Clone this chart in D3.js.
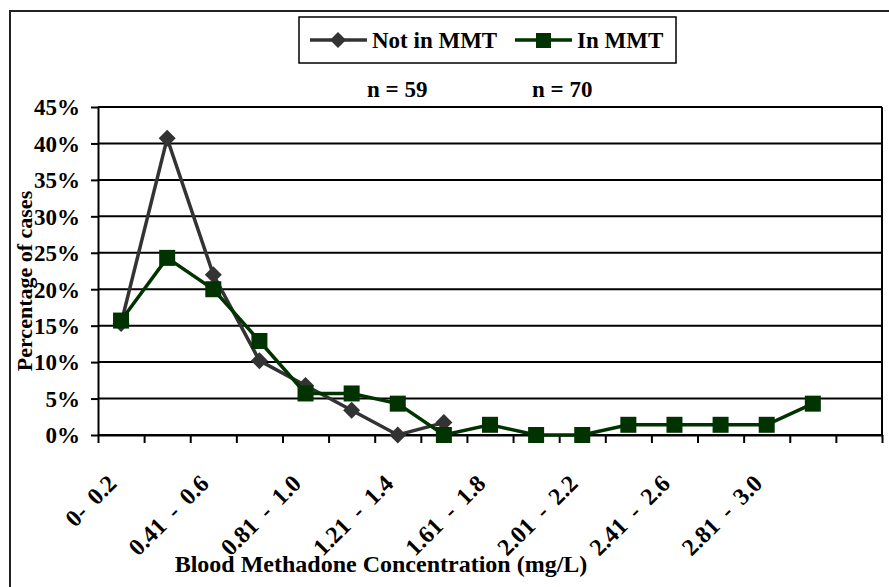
<!DOCTYPE html>
<html>
<head>
<meta charset="utf-8">
<script src="https://cdn.jsdelivr.net/npm/d3@7"></script>
<style>
  html, body { margin: 0; padding: 0; background: #fff; }
  svg { display: block; }
</style>
</head>
<body>
<svg id="chart" width="889" height="587"></svg>
<script>
// ---- data ----
const categories = ["0- 0.2", "0.21 - 0.4", "0.41 - 0.6", "0.61 - 0.8", "0.81 - 1.0", "1.01 - 1.2",
  "1.21 - 1.4", "1.41 - 1.6", "1.61 - 1.8", "1.81 - 2.0", "2.01 - 2.2", "2.21 - 2.4",
  "2.41 - 2.6", "2.61 - 2.8", "2.81 - 3.0", "3.01 - 3.2", ""];
const shownLabels = ["0- 0.2", "0.41 - 0.6", "0.81 - 1.0", "1.21 - 1.4", "1.61 - 1.8", "2.01 - 2.2", "2.41 - 2.6", "2.81 - 3.0"];
const notInMMT = [15.3, 40.7, 22.0, 10.2, 6.8, 3.4, 0.0, 1.7];
const inMMT = [15.7, 24.3, 20.0, 12.9, 5.7, 5.7, 4.3, 0.0, 1.4, 0.0, 0.0, 1.4, 1.4, 1.4, 1.4, 4.3];
const yTicks = [0, 5, 10, 15, 20, 25, 30, 35, 40, 45];
const seriesNames = ["Not in MMT", "In MMT"];
const sampleLabels = ["n = 59", "n = 70"];

// ---- layout ----
const FONT = "Liberation Serif, Times New Roman, serif";
const svg = d3.select("#chart");
const L = 98, R = 882, T = 107, B = 435;
const x = d3.scaleBand().domain(categories).range([L, R]).padding(0);
const xb = d3.scaleLinear().domain([0, categories.length]).range([L, R]);
const y = d3.scaleLinear().domain([0, 45]).range([B, T]);

function txt(sel, size) {
  return sel.attr("font-family", FONT).style("font-family", FONT)
    .attr("font-weight", "bold").style("font-weight", "bold")
    .style("font-size", size + "px").attr("fill", "#000");
}

svg.append("rect").attr("width", 889).attr("height", 587).attr("fill", "#fff");
// outer chart border
svg.append("rect").attr("x", 10).attr("y", 11).attr("width", 920).attr("height", 620)
  .attr("fill", "none").attr("stroke", "#222").attr("stroke-width", 2);

// gridlines
svg.append("g").selectAll("line").data(yTicks).join("line")
  .attr("x1", L).attr("x2", R).attr("y1", d => y(d)).attr("y2", d => y(d))
  .attr("stroke", "#000").attr("stroke-width", 2);
// plot right border
svg.append("line").attr("x1", R).attr("x2", R).attr("y1", T).attr("y2", B)
  .attr("stroke", "#000").attr("stroke-width", 2);

// y axis
const ya = svg.append("g").attr("transform", `translate(${L},0)`)
  .call(d3.axisLeft(y).tickValues(yTicks).tickFormat(d => d + "%").tickSize(7).tickSizeOuter(0).tickPadding(11));
ya.attr("font-family", null).attr("font-size", null);
ya.select(".domain").attr("stroke", "#000").attr("stroke-width", 2);
ya.selectAll(".tick line").attr("stroke", "#000").attr("stroke-width", 2);
txt(ya.selectAll(".tick text"), 23).attr("dy", "0.34em");

// x axis (ticks at category boundaries)
const xa = svg.append("g").attr("transform", `translate(0,${B})`)
  .call(d3.axisBottom(xb).tickValues(d3.range(categories.length + 1)).tickFormat("").tickSize(8).tickSizeOuter(0));
xa.select(".domain").attr("stroke", "#000").attr("stroke-width", 2);
xa.selectAll(".tick line").attr("stroke", "#000").attr("stroke-width", 2);

// x labels (rotated)
txt(svg.append("g").selectAll("text").data(shownLabels).join("text"), 24)
  .attr("transform", d => `translate(${x(d) + x.bandwidth() / 2 - 3},485) rotate(-45)`)
  .attr("text-anchor", "end")
  .style("word-spacing", "5px")
  .text(d => d);

// axis titles
txt(svg.append("text"), 24).attr("x", 381).attr("y", 572).attr("text-anchor", "middle")
  .text("Blood Methadone Concentration (mg/L)");
txt(svg.append("text"), 22).attr("transform", "translate(32,281) rotate(-90)").attr("text-anchor", "middle")
  .text("Percentage of cases");

// series
const colors = ["#333333", "#003300"];
const line = d3.line().x((d, i) => x(categories[i]) + x.bandwidth() / 2).y(d => y(d));
const diamond = s => `M0,${-s}L${s},0L0,${s}L${-s},0Z`;

svg.append("path").datum(notInMMT).attr("d", line).attr("fill", "none")
  .attr("stroke", colors[0]).attr("stroke-width", 3.5);
svg.append("g").selectAll("path").data(notInMMT).join("path")
  .attr("transform", (d, i) => `translate(${x(categories[i]) + x.bandwidth() / 2},${y(d)})`)
  .attr("d", diamond(8.5)).attr("fill", colors[0]);

svg.append("path").datum(inMMT).attr("d", line).attr("fill", "none")
  .attr("stroke", colors[1]).attr("stroke-width", 3.5);
svg.append("g").selectAll("rect").data(inMMT).join("rect")
  .attr("x", (d, i) => x(categories[i]) + x.bandwidth() / 2 - 8)
  .attr("y", d => y(d) - 8)
  .attr("width", 16).attr("height", 16).attr("fill", colors[1]);

// legend
const lg = svg.append("g");
lg.append("rect").attr("x", 299).attr("y", 17).attr("width", 377).attr("height", 46)
  .attr("fill", "#fff").attr("stroke", "#000").attr("stroke-width", 1.5);
lg.append("line").attr("x1", 310).attr("x2", 367).attr("y1", 40).attr("y2", 40)
  .attr("stroke", colors[0]).attr("stroke-width", 3.5);
lg.append("path").attr("transform", "translate(338,40)").attr("d", diamond(8)).attr("fill", colors[0]);
txt(lg.append("text"), 23).attr("x", 372).attr("y", 48).text(seriesNames[0]);
lg.append("line").attr("x1", 515).attr("x2", 572).attr("y1", 40).attr("y2", 40)
  .attr("stroke", colors[1]).attr("stroke-width", 3.5);
lg.append("rect").attr("x", 536).attr("y", 33).attr("width", 15).attr("height", 15).attr("fill", colors[1]);
txt(lg.append("text"), 23).attr("x", 577).attr("y", 48).text(seriesNames[1]);

// n labels
txt(svg.append("text"), 23).attr("x", 367).attr("y", 97).text(sampleLabels[0]);
txt(svg.append("text"), 23).attr("x", 532).attr("y", 97).text(sampleLabels[1]);
</script>
</body>
</html>
